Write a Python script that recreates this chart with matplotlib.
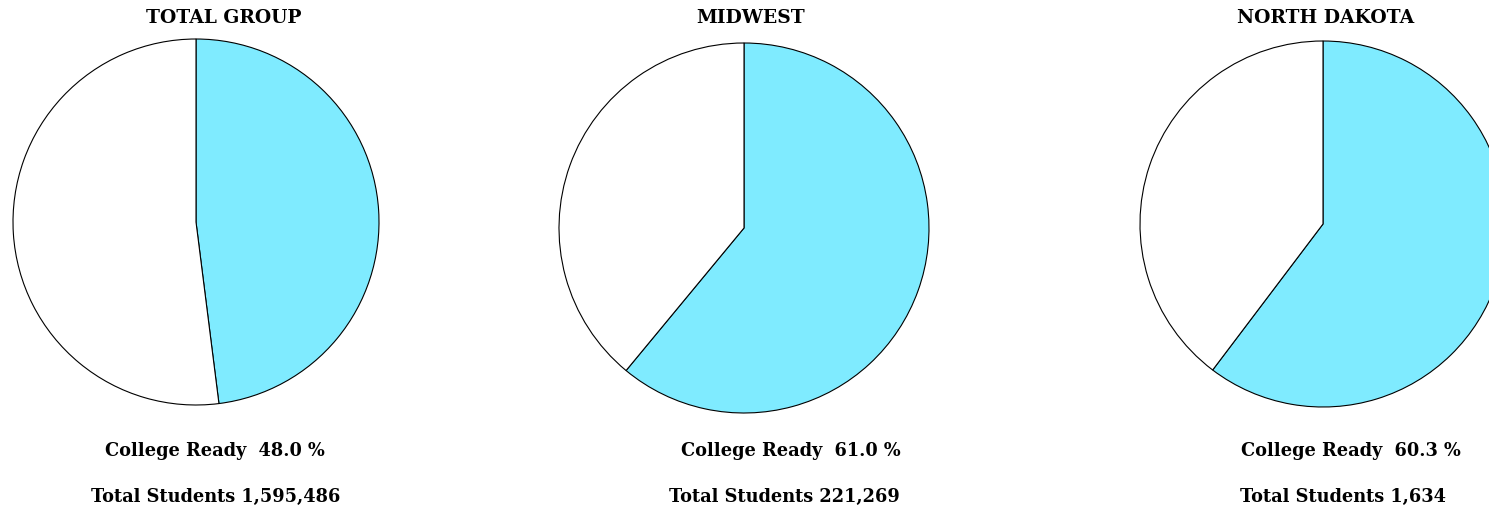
import matplotlib.pyplot as plt

# data
regions = ['TOTAL GROUP', 'MIDWEST', 'NORTH DAKOTA']
college_ready = [48.0, 61.0, 60.3]
total_students = ['1,595,486', '221,269', '1,634']

# layout in pixels (x, y from top), radius
centers = [(196, 222), (744, 228), (1323, 224)]
radii = [183, 185, 183]
title_x = [224, 751, 1326]
ready_x = [215, 791, 1351]
total_x = [216, 784, 1343]

W, H = 1489, 508
CYAN = '#7FEBFF'

plt.rcParams['font.family'] = ['DejaVu Serif']

fig = plt.figure(figsize=(W / 100, H / 100), dpi=100)
ax = fig.add_axes([0, 0, 1, 1])

for i, name in enumerate(regions):
    cx, cy = centers[i]
    pct = college_ready[i]
    ax.pie([pct, 100 - pct], colors=[CYAN, 'white'], startangle=90,
           counterclock=False, center=(cx, H - cy), radius=radii[i],
           wedgeprops=dict(edgecolor='black', linewidth=0.8), frame=True)
    ax.text(title_x[i], H - 18, name, ha='center', va='center',
            fontsize=13.5, fontweight='bold')
    ax.text(ready_x[i], H - 451, 'College Ready  %.1f %%' % pct,
            ha='center', va='center', fontsize=12.8, fontweight='bold')
    ax.text(total_x[i], H - 497, 'Total Students ' + total_students[i],
            ha='center', va='center', fontsize=12.8, fontweight='bold')

ax.set_xlim(0, W)
ax.set_ylim(0, H)
ax.axis('off')

fig.savefig('out.png', dpi=100)
